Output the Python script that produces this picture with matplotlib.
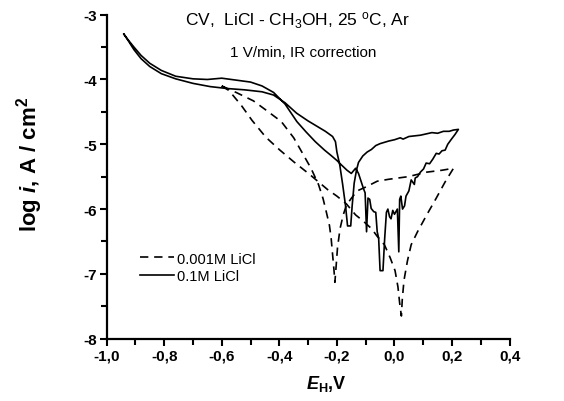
import matplotlib
matplotlib.use("Agg")
import matplotlib.pyplot as plt
import numpy as np

plt.rcParams['font.family'] = ['Liberation Sans', 'DejaVu Sans']
plt.rcParams['mathtext.fontset'] = 'custom'
plt.rcParams['mathtext.rm'] = 'Liberation Sans'
plt.rcParams['mathtext.it'] = 'Liberation Sans:italic'
plt.rcParams['mathtext.bf'] = 'Liberation Sans:bold'
plt.rcParams['mathtext.bfit'] = 'Liberation Sans:italic:bold'
plt.rcParams['axes.unicode_minus'] = False

# 0.1M LiCl, solid loop (forward scan, then return)
solid_x = [-0.940, -0.925, -0.905, -0.880, -0.850, -0.810, -0.760, -0.700, -0.640, -0.580,
           -0.520, -0.460, -0.420, -0.380, -0.340, -0.300, -0.270, -0.240, -0.215, -0.205,
           -0.200, -0.190, -0.180, -0.170, -0.163, -0.152, -0.147, -0.140, -0.132, -0.125,
           -0.110, -0.095, -0.080, -0.065, -0.050, -0.035, -0.020, 0.000, 0.020, 0.030,
           0.050, 0.070, 0.090, 0.110, 0.130, 0.150, 0.170, 0.190, 0.205, 0.222,
           0.210, 0.198, 0.185, 0.176, 0.165, 0.155, 0.145, 0.133, 0.122, 0.110,
           0.101, 0.090, 0.080, 0.072, 0.069, 0.058, 0.050, 0.040, 0.035, 0.028,
           0.022, 0.018, 0.015, 0.010, 0.000, -0.006, -0.012, -0.017, -0.023, -0.028,
           -0.034, -0.040, -0.050, -0.055, -0.060, -0.065, -0.072, -0.081, -0.086, -0.092,
           -0.097, -0.102, -0.108, -0.125, -0.135, -0.150, -0.165, -0.184, -0.200, -0.221,
           -0.243, -0.275, -0.307, -0.339, -0.380, -0.420, -0.460, -0.500, -0.550, -0.600,
           -0.650, -0.700, -0.760, -0.810, -0.850, -0.880, -0.905, -0.925, -0.940]
solid_y = [-3.30, -3.40, -3.54, -3.68, -3.80, -3.91, -3.99, -4.06, -4.11, -4.14,
           -4.16, -4.19, -4.24, -4.36, -4.52, -4.64, -4.72, -4.80, -4.88, -4.96,
           -5.12, -5.32, -5.62, -5.95, -6.26, -6.26, -5.95, -5.60, -5.40, -5.28,
           -5.18, -5.12, -5.08, -5.02, -4.99, -4.97, -4.95, -4.93, -4.90, -4.92,
           -4.88, -4.87, -4.86, -4.84, -4.82, -4.83, -4.80, -4.80, -4.78, -4.77,
           -4.85, -4.92, -5.00, -5.09, -5.10, -5.15, -5.14, -5.23, -5.30, -5.29,
           -5.38, -5.43, -5.50, -5.52, -5.62, -5.55, -5.72, -5.80, -5.95, -6.00,
           -5.80, -5.85, -6.66, -6.00, -6.08, -6.02, -6.15, -6.12, -6.00, -6.05,
           -6.45, -6.95, -6.95, -6.45, -6.35, -6.05, -6.04, -5.99, -5.85, -5.83,
           -6.35, -5.75, -5.68, -5.45, -5.37, -5.45, -5.40, -5.32, -5.25, -5.17,
           -5.09, -4.96, -4.81, -4.65, -4.38, -4.20, -4.10, -4.04, -4.01, -3.98,
           -4.00, -3.99, -3.95, -3.86, -3.75, -3.63, -3.50, -3.39, -3.30]

# 0.001M LiCl, dashed loop
dash_x = [-0.600, -0.550, -0.490, -0.447, -0.393, -0.350, -0.318, -0.290, -0.264, -0.248,
          -0.237, -0.226, -0.220, -0.215, -0.210, -0.207, -0.203, -0.198, -0.189, -0.178,
          -0.167, -0.151, -0.130, -0.100, -0.060, -0.020, 0.047, 0.112, 0.166, 0.205,
          0.176, 0.144, 0.112, 0.080, 0.058, 0.045, 0.033, 0.027, 0.024, 0.018,
          0.012, 0.002, -0.015, -0.035, -0.060, -0.080, -0.110, -0.135, -0.167, -0.200,
          -0.232, -0.264, -0.296, -0.350, -0.398, -0.447, -0.495, -0.532, -0.575, -0.600]
dash_y = [-4.10, -4.20, -4.33, -4.47, -4.65, -4.90, -5.15, -5.37, -5.62, -5.84,
          -6.04, -6.25, -6.45, -6.70, -6.95, -7.13, -6.90, -6.60, -6.30, -6.09,
          -5.94, -5.84, -5.72, -5.66, -5.57, -5.54, -5.50, -5.43, -5.40, -5.37,
          -5.58, -5.84, -6.09, -6.35, -6.55, -6.80, -7.10, -7.40, -7.65, -7.45,
          -7.20, -6.95, -6.75, -6.55, -6.42, -6.30, -6.18, -6.09, -5.92, -5.80,
          -5.70, -5.58, -5.46, -5.27, -5.09, -4.89, -4.63, -4.40, -4.17, -4.10]

xticks = [-1.0, -0.8, -0.6, -0.4, -0.2, 0.0, 0.2, 0.4]
xtick_labels = ["-1,0", "-0,8", "-0,6", "-0,4", "-0,2", "0,0", "0,2", "0,4"]
yticks = [-8, -7, -6, -5, -4, -3]
ytick_labels = ["-8", "-7", "-6", "-5", "-4", "-3"]

fig = plt.figure(figsize=(5.64, 4.02), dpi=100)
ax = fig.add_axes([0.189, 0.155, 0.7146, 0.806])

ax.plot(dash_x, dash_y, color="black", lw=1.2, linestyle=(0, (5, 3.5)), label="0.001M LiCl")
ax.plot(solid_x, solid_y, color="black", lw=1.2, label="0.1M LiCl")

ax.set_xlim(-1.0, 0.4)
ax.set_ylim(-8, -3)
ax.spines['top'].set_visible(False)
ax.spines['right'].set_visible(False)
ax.spines['left'].set_linewidth(1.6)
ax.spines['bottom'].set_linewidth(1.6)

ax.set_xticks(xticks)
ax.set_xticklabels(xtick_labels, fontweight="bold")
ax.set_xticks(np.arange(-0.9, 0.4, 0.2), minor=True)
ax.set_yticks(yticks)
ax.set_yticklabels(ytick_labels, fontweight="bold")
ax.set_yticks(np.arange(-7.5, -3.0, 1.0), minor=True)
ax.tick_params(which="major", direction="out", length=5, width=1.5, labelsize=11, pad=2)
ax.tick_params(which="minor", direction="out", length=4, width=1.5)

ax.set_xlabel(r"$\mathbfit{E}_\mathbf{H}$,V", fontsize=13, fontweight="bold")
ax.xaxis.set_label_coords(0.545, -0.105)
ax.set_ylabel(r"log $\mathbfit{i}$, A / cm$^\mathbf{2}$", fontsize=16, fontweight="bold")
ax.yaxis.set_label_coords(-0.152, 0.54)

ax.text(-0.337, -3.08, r"CV,  LiCl - CH$_3$OH, 25 $^\mathrm{o}$C, Ar", fontsize=12.5,
        ha="center", va="center")
ax.text(-0.316, -3.57, "1 V/min, IR correction", fontsize=11, ha="center", va="center")

ax.legend(loc="center left", bbox_to_anchor=(0.083, 0.22), frameon=False, fontsize=10.5,
          handlelength=2.3, handletextpad=0.2, labelspacing=0.25, borderpad=0, borderaxespad=0)

fig.savefig("out.png", dpi=100)
